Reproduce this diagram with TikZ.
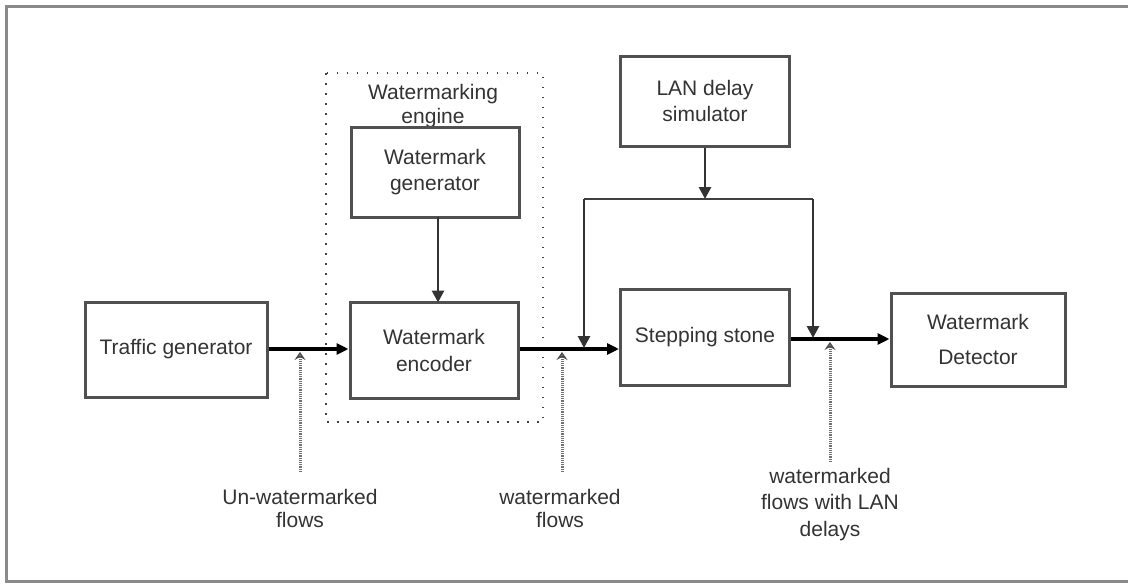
\documentclass[tikz,border=0pt]{standalone}
\usepackage{fontspec}
\setmainfont{Liberation Sans}
\usetikzlibrary{arrows.meta}
\definecolor{txt}{HTML}{333333}
\definecolor{boxc}{HTML}{505050}
\definecolor{framec}{HTML}{8A8A8A}
\definecolor{hintc}{HTML}{707070}
\begin{document}
\begin{tikzpicture}[x=1pt,y=-1pt,
  blk/.style={draw=boxc,line width=3pt,rectangle,align=center,text=txt,
    font=\fontsize{21}{25.5}\selectfont,inner sep=0pt},
  lbl/.style={align=center,text=txt,font=\fontsize{21}{25.5}\selectfont,inner sep=0pt},
  flow/.style={draw=black,line width=3.3pt,-{Triangle[length=12pt,width=11pt]}},
  feed/.style={draw=black!80,line width=2.8pt,-{Triangle[length=12pt,width=12pt]}},
  wire/.style={draw=black!75,line width=2.8pt},
  hint/.style={draw=hintc,line width=3pt,dash pattern=on 1.2pt off 1pt,
    -{Stealth[open,length=8pt,width=11pt,inset=3pt,line width=1.4pt,color=black!70,fill=hintc!60]}},
  engine/.style={draw=black!75,line width=1.8pt,dash pattern=on 1.5pt off 8.5pt}]
\clip (0,0) rectangle (1128,584);
\fill[white] (0,0) rectangle (1128,584);
\draw[framec,line width=3pt] (6.5,6.5) rectangle (1140,581.5);

% engine region
\draw[engine] (326,73) rectangle (543,422);
\node[lbl,font=\fontsize{21}{24}\selectfont] (englbl) at (433,106) {Watermarking\\engine};

% blocks
\node[blk,minimum width=182pt,minimum height=95pt] (tg) at (176,349.5) {Traffic generator};
\node[blk,minimum width=168pt,minimum height=90pt] (wg) at (435,172) {Watermark\\generator};
\node[blk,minimum width=168pt,minimum height=96pt,font=\fontsize{21}{27}\selectfont] (we) at (434,350) {Watermark\\encoder};
\node[blk,minimum width=169pt,minimum height=96pt] (ss) at (705,337) {Stepping stone};
\node[blk,minimum width=169pt,minimum height=90pt,font=\fontsize{21}{26}\selectfont] (lan) at (705,101) {LAN delay\\simulator};
\node[blk,minimum width=174pt,minimum height=93pt,font=\fontsize{21}{35}\selectfont] (wd) at (978,339.5) {Watermark\\Detector};

% coordinates
\coordinate (jl) at (584,199);
\coordinate (jm) at (705,199);
\coordinate (jr) at (813,199);
\coordinate (inl) at (584,349);
\coordinate (inr) at (813,339);

% main flow
\draw[flow] (tg.east |- 0,349) -- (we.west |- 0,349);
\draw[flow] (we.east |- 0,349) -- (ss.west |- 0,349);
\draw[flow] (ss.east |- 0,339) -- (wd.west |- 0,339);
\draw[feed] (438,217) -- (438,302.5);

% LAN feed
\draw[feed] (lan.south) -- (jm);
\draw[wire] (jl) -- (jr);
\draw[feed,shorten >=1pt] (jl) -- (inl);
\draw[feed,shorten >=1pt] (jr) -- (inr);

% labels
\node[lbl,font=\fontsize{21}{23}\selectfont] (l1) at (300,508.5) {Un-watermarked\\flows};
\node[lbl,font=\fontsize{21}{23}\selectfont] (l2) at (560,508.5) {watermarked\\flows};
\node[lbl,font=\fontsize{21}{26.5}\selectfont] (l3) at (830,504.5) {watermarked\\flows with LAN\\delays};

\coordinate (t1) at (300,352);
\coordinate (t2) at (562,352);
\coordinate (t3) at (830,342);
\draw[hint] (300,472) -- (t1);
\draw[hint] (562,472) -- (t2);
\draw[hint] (830,462) -- (t3);
\end{tikzpicture}
\end{document}
